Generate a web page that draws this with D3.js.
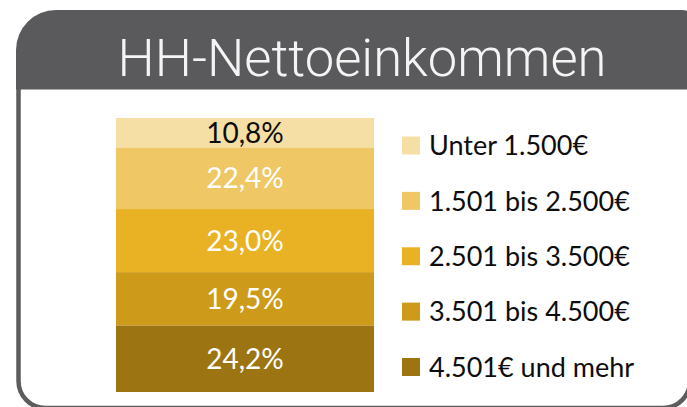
<!DOCTYPE html>
<html>
<head>
<meta charset="utf-8">
<script src="https://cdn.jsdelivr.net/npm/d3@7"></script>
<style>
  body { margin: 0; background: #fff; }
  svg { display: block; }
</style>
</head>
<body>
<div id="container"></div>
<script>
// Daten
var categories = ["Unter 1.500€", "1.501 bis 2.500€", "2.501 bis 3.500€", "3.501 bis 4.500€", "4.501€ und mehr"];
var values = [10.8, 22.4, 23.0, 19.5, 24.2];
var labels = ["10,8%", "22,4%", "23,0%", "19,5%", "24,2%"];
var colors = ["#f5dfa5", "#efc765", "#e8b224", "#cd9a19", "#9c7512"];
var labelColors = ["#0d0d0d", "#fff", "#fff", "#fff", "#fff"];
var title = "HH-Nettoeinkommen";

var width = 687, height = 407;

var svg = d3.select("#container").append("svg")
  .attr("width", width)
  .attr("height", height);

// Rahmen (Panel)
var L = 18.5, B = 408, R = 690, r = 27;
svg.append("path")
  .attr("d", "M" + L + ",60 L" + L + "," + (B - r) +
    " A" + r + "," + r + " 0 0 0 " + (L + r) + "," + B +
    " L" + (R - r) + "," + B +
    " A" + r + "," + r + " 0 0 0 " + R + "," + (B - r) +
    " L" + R + ",60")
  .attr("fill", "#fff")
  .attr("stroke", "#5d5d5f")
  .attr("stroke-width", 4.5);

// Kopfzeile
var hx0 = 16, hy0 = 10, hy1 = 89.5, hx1 = 700, rl = 40, rr = 18;
svg.append("path")
  .attr("d", "M" + hx0 + "," + hy1 + " L" + hx0 + "," + (hy0 + rl) +
    " A" + rl + "," + rl + " 0 0 1 " + (hx0 + rl) + "," + hy0 +
    " L" + (hx1 - rr) + "," + hy0 +
    " A" + rr + "," + rr + " 0 0 1 " + hx1 + "," + (hy0 + rr) +
    " L" + hx1 + "," + hy1 + " Z")
  .attr("fill", "#5a5a5c");

svg.append("text")
  .attr("x", 362)
  .attr("y", 76)
  .attr("text-anchor", "middle")
  .attr("fill", "#f4f4f4")
  .style("font-family", "Roboto, 'DejaVu Sans', sans-serif")
  .style("font-weight", 300)
  .style("font-size", "51px")
  .attr("textLength", 489)
  .attr("lengthAdjust", "spacingAndGlyphs")
  .text(title);

// gestapelter Balken
var total = d3.sum(values);
var cum = d3.cumsum(values);
var yScale = d3.scaleLinear()
  .domain([0, total])
  .range([118, 392]);
var xScale = d3.scaleBand()
  .domain(["HH"])
  .range([116, 374]);

var segs = categories.map(function(c, i) {
  return { cat: c, v: values[i], y0: cum[i] - values[i], y1: cum[i], label: labels[i], i: i };
});

var bar = svg.append("g");
bar.selectAll("rect")
  .data(segs)
  .enter()
  .append("rect")
  .attr("x", xScale("HH"))
  .attr("width", xScale.bandwidth())
  .attr("y", function(d) { return yScale(d.y0); })
  .attr("height", function(d) { return yScale(d.y1) - yScale(d.y0); })
  .attr("fill", function(d) { return colors[d.i]; });

bar.selectAll("text")
  .data(segs)
  .enter()
  .append("text")
  .attr("x", xScale("HH") + xScale.bandwidth() / 2)
  .attr("y", function(d) { return (yScale(d.y0) + yScale(d.y1)) / 2; })
  .attr("dy", "0.36em")
  .attr("text-anchor", "middle")
  .attr("fill", function(d) { return labelColors[d.i]; })
  .style("font-family", "Lato, 'Open Sans', sans-serif")
  .style("font-size", "28px")
  .text(function(d) { return d.label; });

// Legende
var legendScale = d3.scalePoint()
  .domain(categories)
  .range([145.5, 367]);

var legend = svg.append("g");
legend.selectAll("rect")
  .data(categories)
  .enter()
  .append("rect")
  .attr("x", 402)
  .attr("y", function(d) { return legendScale(d) - 9; })
  .attr("width", 18)
  .attr("height", 18)
  .attr("fill", function(d, i) { return colors[i]; });

legend.selectAll("text")
  .data(categories)
  .enter()
  .append("text")
  .attr("x", 429)
  .attr("y", function(d) { return legendScale(d); })
  .attr("dy", "0.36em")
  .attr("fill", "#0d0d0d")
  .style("font-family", "Lato, 'Open Sans', sans-serif")
  .style("font-size", "27px")
  .text(function(d) { return d; });
</script>
</body>
</html>
